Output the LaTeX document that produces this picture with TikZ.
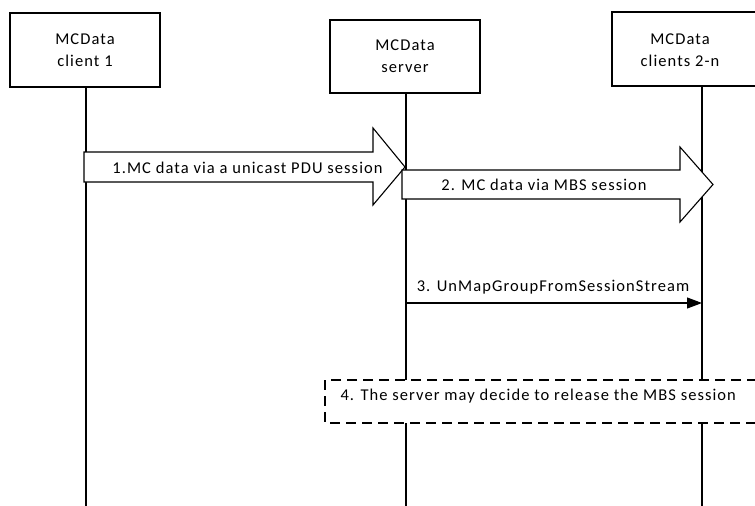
\documentclass[tikz,border=0pt]{standalone}
\usepackage{fontspec}
\setmainfont[LetterSpace=6.5]{Carlito}
\usetikzlibrary{arrows.meta}
\begin{document}
\begin{tikzpicture}[x=1pt,y=-1pt,
  line width=1.1pt,
  entity/.style={draw, fill=white, minimum width=150pt, minimum height=74pt, align=center, font=\fontsize{16.5}{22}\selectfont, inner sep=0pt},
  lbl/.style={font=\fontsize{16.5}{18}\selectfont, inner sep=0pt},
  life/.style={draw, line width=1.1pt},
  blockarrow/.style={draw, fill=white, line width=1.1pt, line join=miter},
  msg/.style={draw, -{Triangle[length=15pt,width=11pt]}}
]
\useasboundingbox (0,0) rectangle (755,506);
% entities
\node[entity] (c1) at (85,50) {MCData\\client 1};
\node[entity, minimum height=73pt] (srv) at (405,56.5) {MCData\\server};
\node[entity, minimum width=152pt] (c2) at (688,49) {};
\node[lbl, align=center, font=\fontsize{16.5}{22}\selectfont] (c2t) at (680,50) {MCData\\clients 2-n};
% lifeline ends
\coordinate (e1) at (86,506);
\coordinate (e2) at (406,506);
\coordinate (e3) at (702,506);
\coordinate (t1) at (86,87);
\coordinate (t2) at (406,93);
\coordinate (t3) at (702,86);
\draw[life] (t1) -- (e1);
\draw[life] (t2) -- (e2);
\draw[life] (t3) -- (e3);
% block arrow 1
\draw[blockarrow] (84,152) -- (373,152) -- (373,128) -- (405,167) -- (373,205) -- (373,182) -- (84,182) -- cycle;
\node[lbl] (m1) at (247.5,168) {1.MC data via a unicast PDU session};
% block arrow 2
\draw[blockarrow] (402,170) -- (680,170) -- (680,147) -- (713,184.5) -- (680,222) -- (680,199) -- (402,199) -- cycle;
\node[lbl] (m2) at (544,185) {2. MC data via MBS session};
% message 3
\coordinate (s3) at (406,303);
\coordinate (r3) at (702,303);
\draw[msg] (s3) -- (r3);
\node[lbl] (m3) at (553,287) {3. UnMapGroupFromSessionStream};
% dashed box
\draw[fill=white, dashed, dash pattern=on 10pt off 6pt] (325,380) rectangle (770,423);
\node[lbl, anchor=west] (m4) at (340,396) {4. The server may decide to release the MBS session};
\end{tikzpicture}
\end{document}
